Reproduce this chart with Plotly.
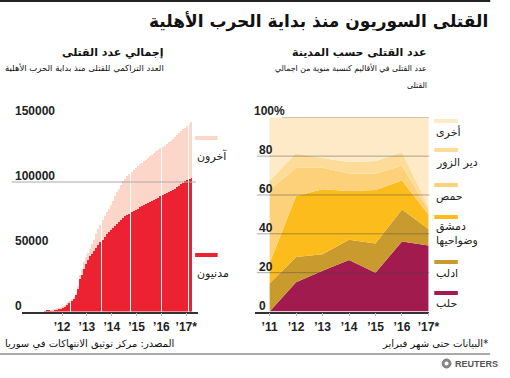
import plotly.graph_objects as go
import pandas as pd

W, H = 510, 378

# ---------------- Left chart data (monthly cumulative deaths) ----------------
month_start = "2011-03-15"
civilians = [100, 300, 500, 700, 900, 1200, 1500, 1900, 2400, 3000,
             3800, 5200, 6500, 8000, 9800, 12500, 17000, 25000, 28500, 33000,
             37000, 40000, 42500, 44500, 46500, 49000, 51500, 53500, 55500, 57500,
             59500, 61500, 63000, 64500, 66000, 67500, 69000, 70500, 72000, 73500,
             74500, 75500, 76500, 77500, 78500, 79500, 80800, 81600, 82400, 83200,
             84000, 84800, 85500, 86200, 87000, 88000, 89000, 90000, 91000, 91700,
             92400, 93100, 93800, 94800, 95800, 97000, 98200, 99400, 100500, 101400,
             102500, 103500]
total = [100, 300, 500, 800, 1000, 1400, 1800, 2300, 2900, 3700,
         4700, 6000, 7500, 9300, 11500, 14500, 19500, 28000, 33000, 38000,
         42000, 45500, 48500, 52000, 55500, 59500, 63500, 67000, 70500, 73500,
         76500, 79500, 82500, 85500, 89000, 92000, 95000, 98000, 100500, 102500,
         104500, 106500, 108000, 109500, 111000, 112500, 113800, 115000, 116200, 117400,
         118600, 119800, 121000, 122300, 123600, 124800, 126000, 127000, 128000, 129300,
         130600, 132000, 133400, 134800, 136200, 137700, 139200, 140700, 142000, 143300,
         144500, 146000]
left_tick_dates = ["2012-01-01", "2013-01-01", "2014-01-01", "2015-01-01", "2016-01-01", "2017-01-01"]
left_tick_text = ["’12", "’13", "’14", "’15", "’16", "’17*"]
left_y_vals = [0, 50000, 100000, 150000]
left_y_text = ["0", "50000", "100000", "150000"]
left_legend = ["آخرون", "مدنيون"]

# ---------------- Right chart data (share of deaths by region, %) ----------------
years = [2011, 2012, 2013, 2014, 2015, 2016, 2017]
right_tick_text = ["’11", "’12", "’13", "’14", "’15", "’16", "’17*"]
aleppo = [0, 15, 21, 26.5, 20, 36, 34]
idlib = [14.5, 13, 8.5, 10.5, 15, 16.5, 8.5]
damascus = [10.5, 31.5, 33.5, 25, 27.5, 15, 7.5]
homs = [37.5, 14.5, 11, 9, 8.5, 7.5, 2.5]
deir = [5, 7.5, 5, 6, 6.5, 7, 1.5]
other = [32.5, 18.5, 21, 23, 22.5, 18, 46]
right_y_vals = [0, 20, 40, 60, 80, 100]
right_y_text = ["0", "20", "40", "60", "80", "100%"]
region_names = ["حلب", "ادلب", "دمشق<br>وضواحيها", "حمص", "دير الزور", "أخرى"]

# ---------------- text ----------------
title_text = "القتلى السوريون منذ بداية الحرب الأهلية"
left_head = "إجمالي عدد القتلى"
left_sub = "العدد التراكمي للقتلى منذ بداية الحرب الأهلية"
right_head = "عدد القتلى حسب المدينة"
right_sub_lines = ["عدد القتلى في الأقاليم كنسبة منوية من اجمالي", "القتلى"]
source_text = "المصدر: مركز توثيق الانتهاكات في سوريا"
note_text = "البيانات حتى شهر فبراير*"

# ---------------- styling ----------------
RED = "#ec2232"
PINK = "#fcd6c9"
region_colors = ["#a11b4e", "#c99b2f", "#fbbc1c", "#fcd17a", "#fddc9a", "#feeac6"]
AR = "DejaVu Sans"
NUM = "Liberation Sans"


def px(x):
    return x / W


def py(y):
    return 1 - y / H


months = pd.date_range(month_start, periods=len(civilians), freq="MS") + pd.Timedelta(days=14)
others = [t - c for t, c in zip(total, civilians)]

fig = go.Figure()
fig.add_trace(go.Bar(x=months, y=civilians, marker=dict(color=RED, line=dict(width=0)),
                     xaxis="x", yaxis="y", hoverinfo="skip"))
fig.add_trace(go.Bar(x=months, y=others, marker=dict(color=PINK, line=dict(width=0)),
                     xaxis="x", yaxis="y", hoverinfo="skip"))

series = [aleppo, idlib, damascus, homs, deir, other]
for vals, col in zip(series, region_colors):
    fig.add_trace(go.Scatter(x=years, y=vals, stackgroup="one", mode="none",
                             fillcolor=col, xaxis="x2", yaxis="y2", hoverinfo="skip"))

YDOM = [1 - 311.5 / H, 1 - 117.3 / H]

fig.update_layout(
    width=W, height=H, autosize=False,
    margin=dict(l=0, r=0, t=0, b=0),
    paper_bgcolor="white", plot_bgcolor="rgba(0,0,0,0)",
    showlegend=False, barmode="stack", bargap=0.28,
    xaxis=dict(type="date", domain=[px(22), px(202)],
               range=["2010-05-15", "2017-06-23"],
               tickmode="array", tickvals=left_tick_dates, ticktext=left_tick_text,
               showline=True, linecolor="#333", linewidth=1.5,
               ticks="outside", ticklen=3, tickcolor="#bbb", tickwidth=1,
               tickfont=dict(family=NUM, size=12, color="#222", weight="bold"),
               showgrid=False, zeroline=False, fixedrange=True),
    yaxis=dict(domain=YDOM, range=[0, 150000], showticklabels=False,
               showgrid=False, zeroline=False, fixedrange=True),
    xaxis2=dict(domain=[px(260), px(438)], range=[2010.444, 2017.037],
                tickmode="array", tickvals=years, ticktext=right_tick_text,
                showline=True, linecolor="#333", linewidth=1.5,
                ticks="outside", ticklen=3, tickcolor="#bbb", tickwidth=1,
                tickfont=dict(family=NUM, size=12, color="#222", weight="bold"),
                showgrid=False, zeroline=False, anchor="y2", fixedrange=True),
    yaxis2=dict(domain=YDOM, range=[0, 100], showticklabels=False,
                showgrid=False, zeroline=False, anchor="x2", fixedrange=True),
)

shapes = []
annotations = []

# top rule and bottom rule
shapes.append(dict(type="rect", xref="paper", yref="paper", x0=0, x1=px(500),
                   y0=py(2), y1=py(0), fillcolor="#222", line=dict(width=0)))
shapes.append(dict(type="line", xref="paper", yref="paper", x0=0, x1=px(500),
                   y0=py(354), y1=py(354), line=dict(color="#555", width=1)))

# left gridline at 100000
shapes.append(dict(type="line", xref="paper", yref="y", x0=px(12), x1=px(200),
                   y0=100000, y1=100000, line=dict(color="#aaa", width=1), layer="above"))

# right gridlines
for v in right_y_vals[1:]:
    x0 = px(288) if v == 100 else px(262)
    shapes.append(dict(type="line", xref="paper", yref="y2", x0=x0, x1=px(438),
                       y0=v, y1=v, line=dict(color="rgba(70,70,70,0.45)", width=1), layer="above"))

# y labels
for v, t in zip(left_y_vals, left_y_text):
    annotations.append(dict(x=px(13), xref="paper", y=v, yref="y", text=t, showarrow=False,
                            xanchor="left", yanchor="bottom", yshift=-3,
                            font=dict(family=NUM, size=12, color="#222", weight="bold")))
for v, t in zip(right_y_vals, right_y_text):
    xx = px(257) if t.endswith("%") else px(262)
    annotations.append(dict(x=xx, xref="paper", y=v, yref="y2", text=t, showarrow=False,
                            xanchor="left", yanchor="bottom", yshift=-3,
                            font=dict(family=NUM, size=12, color="#222", weight="bold")))

# left legend
left_leg_colors = [PINK, RED]
left_sw_y = [138, 255]
left_tx_y = [156, 273]
for name, col, sy, ty in zip(left_legend, left_leg_colors, left_sw_y, left_tx_y):
    shapes.append(dict(type="rect", xref="paper", yref="paper", x0=px(199), x1=px(222),
                       y0=py(sy + 2), y1=py(sy - 2), fillcolor=col, line=dict(width=0)))
    annotations.append(dict(x=px(199), xref="paper", y=py(ty), yref="paper", text=name,
                            showarrow=False, xanchor="left", yanchor="middle",
                            font=dict(family=AR, size=11, color="#222")))

# right legend
sw_y = [293, 262, 217, 185, 150, 121]
tx_y = [303, 273, 233, 196, 163, 132]
for name, col, sy, ty in zip(region_names, region_colors, sw_y, tx_y):
    shapes.append(dict(type="rect", xref="paper", yref="paper", x0=px(443), x1=px(467),
                       y0=py(sy + 2), y1=py(sy - 2), fillcolor=col, line=dict(width=0)))
    annotations.append(dict(x=px(443), xref="paper", y=py(ty), yref="paper", text=name,
                            showarrow=False, xanchor="left", yanchor="middle", align="left",
                            font=dict(family=AR, size=11, color="#222")))

# title and headers
annotations.append(dict(x=px(500), xref="paper", y=py(22), yref="paper", text=title_text,
                        showarrow=False, xanchor="right", yanchor="middle",
                        font=dict(family=AR, size=17, color="#111", weight="bold")))
annotations.append(dict(x=px(169), xref="paper", y=py(52), yref="paper", text=left_head,
                        showarrow=False, xanchor="right", yanchor="middle",
                        font=dict(family=AR, size=11, color="#111", weight="bold")))
annotations.append(dict(x=px(169), xref="paper", y=py(68), yref="paper", text=left_sub,
                        showarrow=False, xanchor="right", yanchor="middle",
                        font=dict(family=AR, size=8.5, color="#111")))
annotations.append(dict(x=px(438), xref="paper", y=py(52), yref="paper", text=right_head,
                        showarrow=False, xanchor="right", yanchor="middle",
                        font=dict(family=AR, size=11, color="#111", weight="bold")))
for line_text, ly in zip(right_sub_lines, [68, 85]):
    annotations.append(dict(x=px(438), xref="paper", y=py(ly), yref="paper", text=line_text,
                            showarrow=False, xanchor="right", yanchor="middle",
                            font=dict(family=AR, size=7.8, color="#111")))

# footer
annotations.append(dict(x=px(180), xref="paper", y=py(344), yref="paper", text=source_text,
                        showarrow=False, xanchor="right", yanchor="middle",
                        font=dict(family=AR, size=10, color="#111")))
annotations.append(dict(x=px(500), xref="paper", y=py(344), yref="paper", text=note_text,
                        showarrow=False, xanchor="right", yanchor="middle",
                        font=dict(family=AR, size=10, color="#111")))
shapes.append(dict(type="circle", xref="paper", yref="paper", x0=px(451), x1=px(460),
                   y0=py(368), y1=py(359), fillcolor="#888", line=dict(color="#777", width=1)))
shapes.append(dict(type="circle", xref="paper", yref="paper", x0=px(453.5), x1=px(457.5),
                   y0=py(365.5), y1=py(361.5), fillcolor="white", line=dict(width=0)))
annotations.append(dict(x=px(462), xref="paper", y=py(363.5), yref="paper", text="REUTERS",
                        showarrow=False, xanchor="left", yanchor="middle",
                        font=dict(family=NUM, size=9, color="#555", weight="bold")))

fig.update_layout(shapes=shapes, annotations=annotations)
fig.write_html("out.html", post_script="document.body.style.margin='0';",
               config={"displayModeBar": False})
